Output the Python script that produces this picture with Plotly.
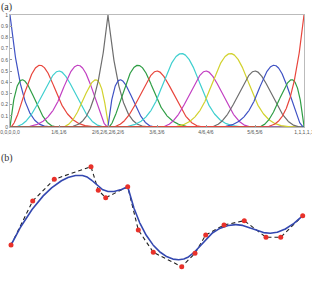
import numpy as np
import plotly.graph_objects as go

# ---- data ----
knots = [0, 0, 0, 0, 0, 1/6, 1/6, 2/6, 2/6, 2/6, 2/6, 3/6, 3/6, 4/6, 4/6, 5/6, 5/6, 1, 1, 1, 1, 1]
degree = 4
tick_vals = [0, 1/6, 2/6, 3/6, 4/6, 5/6, 1]
tick_text = ["0,0,0,0,0", "1/6,1/6", "2/6,2/6,2/6,2/6", "3/6,3/6", "4/6,4/6", "5/6,5/6", "1,1,1,1,1"]
y_ticks = [0, 0.1, 0.2, 0.3, 0.4, 0.5, 0.6, 0.7, 0.8, 0.9, 1]
y_text = ["0", "0.1", "0.2", "0.3", "0.4", "0.5", "0.6", "0.7", "0.8", "0.9", "1"]
colors = ["#3f52c4", "#2f9e45", "#e8453c", "#3fcfcf", "#c23fc2", "#d2d22e", "#6e6e6e"]

ctrl_x = [11, 32.7, 54.3, 91, 98.3, 105.7, 127.7, 138.3, 153.3, 181.7, 195, 205.7, 224, 244.3, 266, 280.7, 302.7]
ctrl_y = [245, 201, 179.3, 166.7, 190.3, 197.7, 186.7, 230, 252.3, 266.7, 253.3, 235, 225, 220.7, 237.3, 237.3, 215.7]


def basis(knots, p, t):
    U = np.array(knots, dtype=float)
    n = len(U) - p - 1
    N = np.zeros((len(t), len(U) - 1))
    for i in range(len(U) - 1):
        N[:, i] = ((t >= U[i]) & (t < U[i + 1])).astype(float)
    last = np.where(U < U[-1])[0][-1]
    N[t >= U[-1], :] = 0
    N[t >= U[-1], last] = 1
    for k in range(1, p + 1):
        Nn = np.zeros((len(t), len(U) - 1 - k))
        for i in range(len(U) - 1 - k):
            a = np.zeros(len(t))
            b = np.zeros(len(t))
            d1 = U[i + k] - U[i]
            d2 = U[i + k + 1] - U[i + 1]
            if d1 > 0:
                a = (t - U[i]) / d1 * N[:, i]
            if d2 > 0:
                b = (U[i + k + 1] - t) / d2 * N[:, i + 1]
            Nn[:, i] = a + b
        N = Nn
    return N[:, :n]


t = np.linspace(0, 1, 1201)
B = basis(knots, degree, t)

fig = go.Figure()
for i in range(B.shape[1]):
    fig.add_trace(go.Scatter(x=t, y=B[:, i], mode="lines",
                             line=dict(color=colors[i % len(colors)], width=1.2),
                             xaxis="x", yaxis="y", showlegend=False, hoverinfo="skip", cliponaxis=False))

cx = B @ np.array(ctrl_x)
cy = B @ np.array(ctrl_y)
fig.add_trace(go.Scatter(x=ctrl_x, y=ctrl_y, mode="lines",
                         line=dict(color="#222222", width=1.1, dash="4px,3px"),
                         xaxis="x2", yaxis="y2", showlegend=False))
fig.add_trace(go.Scatter(x=cx, y=cy, mode="lines",
                         line=dict(color="#3448b0", width=1.6),
                         xaxis="x2", yaxis="y2", showlegend=False))
fig.add_trace(go.Scatter(x=ctrl_x, y=ctrl_y, mode="markers",
                         marker=dict(color="#e8312a", size=5),
                         xaxis="x2", yaxis="y2", showlegend=False))

tickfont = dict(family="Liberation Sans", size=5, color="#555555")
fig.update_layout(
    width=312, height=288,
    margin=dict(l=0, r=0, t=0, b=0, autoexpand=False),
    paper_bgcolor="white", plot_bgcolor="white",
    xaxis=dict(domain=[10/312, 304/312], range=[0, 1], tickvals=tick_vals, ticktext=tick_text,
               ticks="inside", ticklen=2, tickcolor="#999999", showgrid=False, zeroline=False,
               showline=True, linecolor="#bbbbbb", linewidth=1, mirror=True, tickfont=tickfont,
               anchor="y", automargin=False, tickangle=0, ticklabeloverflow="allow"),
    yaxis=dict(domain=[(288-127)/288, (288-15)/288], range=[0, 1], tickvals=y_ticks, ticktext=y_text,
               ticks="inside", ticklen=2, tickcolor="#999999", showgrid=False, zeroline=False,
               showline=True, linecolor="#bbbbbb", linewidth=1, mirror=True, tickfont=tickfont,
               anchor="x", automargin=False, ticklabeloverflow="allow"),
    xaxis2=dict(domain=[0, 1], range=[0, 312], visible=False, anchor="y2", automargin=False),
    yaxis2=dict(domain=[0, 148/288], range=[288, 140], visible=False, anchor="x2", automargin=False),
    annotations=[
        dict(text="(a)", x=0, y=1, xref="paper", yref="paper", xanchor="left", yanchor="top",
             showarrow=False, borderpad=0,
             font=dict(family="Liberation Serif", size=10, color="#333333")),
        dict(text="(b)", x=0, y=1 - 151/288, xref="paper", yref="paper", xanchor="left", yanchor="top",
             showarrow=False, borderpad=0,
             font=dict(family="Liberation Serif", size=10, color="#333333")),
    ],
)
fig.write_html("out.html")
